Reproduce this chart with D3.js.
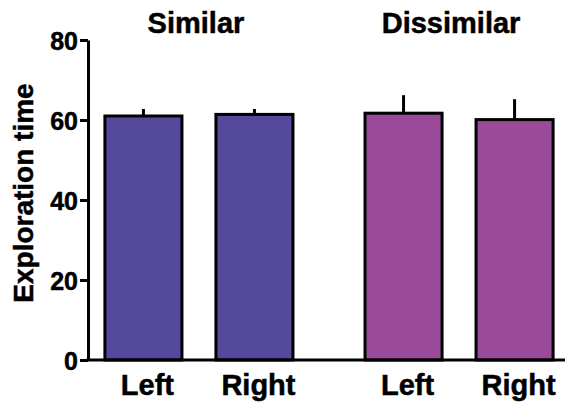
<!DOCTYPE html>
<html>
<head>
<meta charset="utf-8">
<script src="https://cdn.jsdelivr.net/npm/d3@7"></script>
<style>
  body { margin: 0; background: #fff; }
  text { font-family: "Liberation Sans", Arial, sans-serif; font-weight: bold; fill: #000; stroke: #000; stroke-width: 0.5px; }
</style>
</head>
<body>
<div class="container"></div>
<script>
var groups = ['Similar', 'Dissimilar'];
var sides = ['Left', 'Right'];
var means = [[61, 61.4], [61.7, 60.1]];
var errors = [[1.75, 1.35], [4.5, 5.1]];
var colors = ['#55499e', '#994b9a'];
var yTicks = [0, 20, 40, 60, 80];

const WIDTH = 567;
const HEIGHT = 406;
const X0 = 88, X1 = 570;
const Y0 = 360, Y1 = 40;

var translate = function(x, y){
	return "translate(" + x + "," + y + ")";
};

var svg = d3.select('.container').append('svg')
	.attr('width', WIDTH)
	.attr('height', HEIGHT);

var outer = d3.scaleBand()
	.domain(groups)
	.range([X0, X1])
	.paddingInner(0.277)
	.paddingOuter(0.065);

var inner = d3.scaleBand()
	.domain(sides)
	.range([0, outer.bandwidth()])
	.paddingInner(0.306)
	.paddingOuter(0);

var yScale = d3.scaleLinear()
	.domain([0, 80])
	.range([Y0, Y1]);

var data = [];
groups.forEach(function(g, gi){
	sides.forEach(function(s, si){
		data.push({group: g, side: s, mean: means[gi][si], err: errors[gi][si], color: colors[gi]});
	});
});

// error bars (upper only) drawn first so bar outline covers the base
svg.selectAll('.err').data(data)
	.enter().append('line')
	.attr('x1', function(d){ return outer(d.group) + inner(d.side) + inner.bandwidth() / 2; })
	.attr('x2', function(d){ return outer(d.group) + inner(d.side) + inner.bandwidth() / 2; })
	.attr('y1', function(d){ return yScale(d.mean); })
	.attr('y2', function(d){ return yScale(d.mean + d.err); })
	.attr('stroke', '#000')
	.attr('stroke-width', 3);

svg.selectAll('.bar').data(data)
	.enter().append('rect')
	.attr('x', function(d){ return outer(d.group) + inner(d.side); })
	.attr('y', function(d){ return yScale(d.mean); })
	.attr('width', inner.bandwidth())
	.attr('height', function(d){ return Y0 - yScale(d.mean); })
	.attr('fill', function(d){ return d.color; })
	.attr('stroke', '#000')
	.attr('stroke-width', 3);

var yAxis = d3.axisLeft(yScale).tickValues(yTicks).tickSize(8).tickSizeOuter(0).tickPadding(2);
var yg = svg.append('g')
	.attr('transform', translate(X0, 0))
	.call(yAxis);
yg.select('.domain').attr('stroke-width', 3);
yg.selectAll('.tick line').attr('stroke-width', 3);
yg.selectAll('.tick text').style('font-size', '25px').attr('dy', '0.36em');

// x axis baseline
svg.append('line')
	.attr('x1', X0 - 1.5).attr('x2', 565)
	.attr('y1', Y0).attr('y2', Y0)
	.attr('stroke', '#000')
	.attr('stroke-width', 3);

// category labels
groups.forEach(function(g){
	var xAxis = d3.axisBottom(inner).tickSize(0).tickPadding(14);
	var xg = svg.append('g')
		.attr('transform', translate(outer(g), Y0))
		.call(xAxis);
	xg.select('.domain').remove();
	xg.selectAll('.tick text').style('font-size', '29px').attr('dx', 4);
});

// group titles
var titleShift = [-3, -8];
svg.selectAll('.title').data(groups)
	.enter().append('text')
	.attr('x', function(g, i){ return outer(g) + outer.bandwidth() / 2 + titleShift[i]; })
	.attr('y', 33)
	.attr('text-anchor', 'middle')
	.style('font-size', '29px')
	.text(function(g){ return g; });

svg.append('text')
	.attr('transform', translate(33, 193) + ' rotate(-90)')
	.attr('text-anchor', 'middle')
	.style('font-size', '28px')
	.text('Exploration time');
</script>
</body>
</html>
